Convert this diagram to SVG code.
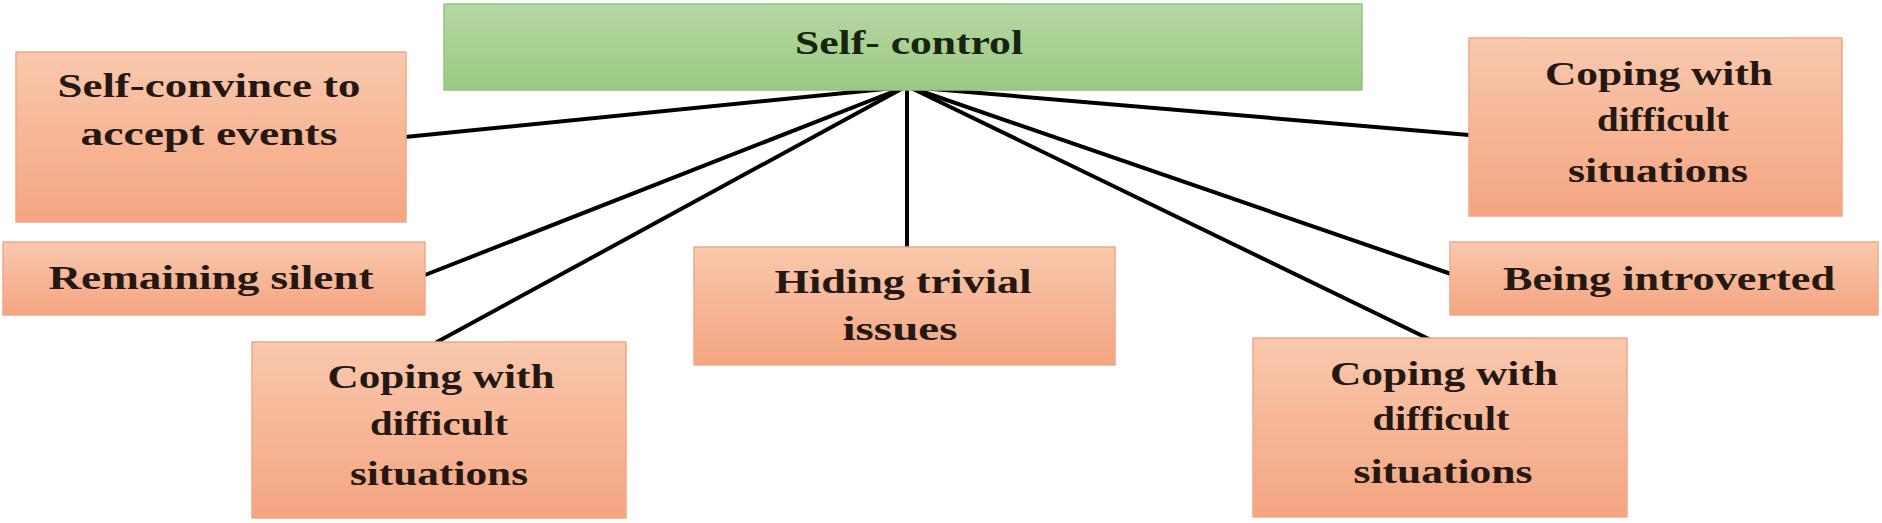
<svg xmlns="http://www.w3.org/2000/svg" width="1882" height="523" viewBox="0 0 1882 523">
  <defs>
    <linearGradient id="gOrange" x1="0" y1="0" x2="0" y2="1">
      <stop offset="0" stop-color="#F9C8AD"/>
      <stop offset="1" stop-color="#F4A581"/>
    </linearGradient>
    <linearGradient id="gGreen" x1="0" y1="0" x2="0" y2="1">
      <stop offset="0" stop-color="#B6D8A3"/>
      <stop offset="1" stop-color="#9BC983"/>
    </linearGradient>
  </defs>
  <style>
    .box { fill: url(#gOrange); stroke: #F1A886; stroke-width: 1.5; }
    .hub { fill: url(#gGreen); stroke: #96C480; stroke-width: 1.5; }
    .t { font-family: "Liberation Serif", "Times New Roman", serif; font-weight: bold; font-size: 33px; fill: #241812; text-anchor: middle; }
    .th { fill: #18240F; }
    .edge { stroke: #000; stroke-width: 4; fill: none; stroke-linecap: round; }
  </style>
  <rect width="1882" height="523" fill="#FFFFFF"/>

  <g id="connectors">
    <line class="edge" x1="905" y1="87" x2="405" y2="137"/>
    <line class="edge" x1="905" y1="87" x2="425" y2="275"/>
    <line class="edge" x1="905" y1="87" x2="437" y2="342"/>
    <line class="edge" x1="907" y1="87" x2="907" y2="246"/>
    <line class="edge" x1="909" y1="87" x2="1469" y2="135"/>
    <line class="edge" x1="909" y1="87" x2="1454" y2="275"/>
    <line class="edge" x1="909" y1="87" x2="1433" y2="341"/>
  </g>

  <g id="self-control">
    <rect class="hub" x="444" y="4" width="918" height="86"/>
    <text class="t th" x="909" y="54" textLength="228" lengthAdjust="spacingAndGlyphs">Self- control</text>
  </g>

  <g id="self-convince">
    <rect class="box" x="16" y="52" width="390" height="170"/>
    <text class="t" x="209" y="97" textLength="303" lengthAdjust="spacingAndGlyphs">Self-convince to</text>
    <text class="t" x="209" y="145" textLength="257" lengthAdjust="spacingAndGlyphs">accept events</text>
  </g>

  <g id="remaining-silent">
    <rect class="box" x="3" y="242" width="422" height="73"/>
    <text class="t" x="211" y="289" textLength="325" lengthAdjust="spacingAndGlyphs">Remaining silent</text>
  </g>

  <g id="coping-left">
    <rect class="box" x="252" y="342" width="374" height="176"/>
    <text class="t" x="441" y="388" textLength="227" lengthAdjust="spacingAndGlyphs">Coping with</text>
    <text class="t" x="439" y="435" textLength="138" lengthAdjust="spacingAndGlyphs">difficult</text>
    <text class="t" x="439" y="485" textLength="178" lengthAdjust="spacingAndGlyphs">situations</text>
  </g>

  <g id="hiding-trivial">
    <rect class="box" x="694" y="247" width="421" height="118"/>
    <text class="t" x="903" y="293" textLength="257" lengthAdjust="spacingAndGlyphs">Hiding trivial</text>
    <text class="t" x="900" y="340" textLength="115" lengthAdjust="spacingAndGlyphs">issues</text>
  </g>

  <g id="coping-right-top">
    <rect class="box" x="1469" y="38" width="373" height="178"/>
    <text class="t" x="1659" y="85" textLength="228" lengthAdjust="spacingAndGlyphs">Coping with</text>
    <text class="t" x="1663" y="131" textLength="132" lengthAdjust="spacingAndGlyphs">difficult</text>
    <text class="t" x="1658" y="182" textLength="180" lengthAdjust="spacingAndGlyphs">situations</text>
  </g>

  <g id="being-introverted">
    <rect class="box" x="1450" y="242" width="428" height="73"/>
    <text class="t" x="1669" y="290" textLength="332" lengthAdjust="spacingAndGlyphs">Being introverted</text>
  </g>

  <g id="coping-right-bottom">
    <rect class="box" x="1253" y="338" width="374" height="179"/>
    <text class="t" x="1444" y="385" textLength="228" lengthAdjust="spacingAndGlyphs">Coping with</text>
    <text class="t" x="1441" y="430" textLength="137" lengthAdjust="spacingAndGlyphs">difficult</text>
    <text class="t" x="1443" y="483" textLength="179" lengthAdjust="spacingAndGlyphs">situations</text>
  </g>
</svg>
